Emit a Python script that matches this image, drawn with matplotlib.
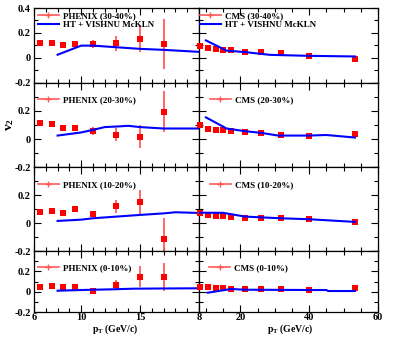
import numpy as np
import matplotlib as mpl
mpl.use('Agg')
import matplotlib.pyplot as plt
from matplotlib.lines import Line2D

plt.rcParams['font.family'] = ['Liberation Serif', 'DejaVu Serif']
plt.rcParams['font.weight'] = 'bold'
plt.rcParams['mathtext.fontset'] = 'custom'
plt.rcParams['mathtext.rm'] = 'Liberation Serif:bold'
plt.rcParams['mathtext.it'] = 'Liberation Serif:bold'

# ---- data ----
centralities = ['30-40%', '20-30%', '10-20%', '0-10%']

phenix_pt = [6.5, 7.5, 8.5, 9.5, 11, 13, 15, 17]
phenix_v2 = [
    [0.123, 0.123, 0.107, 0.115, 0.110, 0.117, 0.155, 0.110],
    [0.112, 0.107, 0.083, 0.078, 0.057, 0.033, 0.019, 0.195],
    [0.083, 0.088, 0.076, 0.102, 0.069, 0.121, 0.152, -0.114],
    [0.044, 0.057, 0.047, 0.044, 0.004, 0.067, 0.147, 0.147],
]
phenix_err = [
    [0.008, 0.008, 0.015, 0.022, 0.030, 0.060, 0.105, 0.200],
    [0.008, 0.008, 0.015, 0.020, 0.028, 0.045, 0.080, 0.146],
    [0.008, 0.008, 0.015, 0.020, 0.020, 0.046, 0.083, 0.150],
    [0.008, 0.008, 0.012, 0.020, 0.030, 0.050, 0.103, 0.140],
]

cms_pt = [8.3, 10.5, 13, 15, 17.3, 21.4, 26.1, 31.7, 40.1, 53.3]
cms_v2 = [
    [0.098, 0.077, 0.067, 0.064, 0.059, 0.050, 0.048, 0.037, 0.013, -0.008],
    [0.100, 0.071, 0.064, 0.064, 0.057, 0.048, 0.045, 0.033, 0.021, 0.040],
    [0.074, 0.060, 0.052, 0.050, 0.045, 0.040, 0.036, 0.040, 0.029, 0.010],
    [0.050, 0.047, 0.037, 0.034, 0.027, 0.030, 0.030, 0.027, 0.020, 0.037],
]
cms_err = [0.004, 0.004, 0.004, 0.005, 0.005, 0.005, 0.006, 0.006, 0.008, 0.012]

# HT + VISHNU McKLN curves
model_l_pt = [
    [8, 10, 11, 13, 15, 17, 20],
    [8, 10, 11, 12, 13, 14, 15, 17, 20],
    [8, 10, 11, 13, 15, 17, 18, 20],
    [8, 10, 12.7, 14.4, 17, 20],
]
model_l_v2 = [
    [0.025, 0.098, 0.098, 0.085, 0.072, 0.064, 0.048],
    [0.026, 0.048, 0.066, 0.086, 0.090, 0.095, 0.086, 0.076, 0.076],
    [0.017, 0.026, 0.036, 0.048, 0.060, 0.071, 0.079, 0.074],
    [0.010, 0.017, 0.024, 0.030, 0.032, 0.034],
]
model_r_pt = [
    [10, 16, 21.4, 28.6, 40, 53.3],
    [10, 16, 21.4, 26.1, 31, 40, 45, 53.3],
    [8, 15, 21.4, 31.7, 40, 53.3],
    [10.5, 17.3, 21.4, 40, 45, 45.5, 53.3],
]
model_r_v2 = [
    [0.140, 0.058, 0.046, 0.024, 0.016, 0.011],
    [0.155, 0.076, 0.057, 0.045, 0.026, 0.026, 0.030, 0.012],
    [0.076, 0.075, 0.048, 0.036, 0.029, 0.010],
    [-0.010, 0.027, 0.020, 0.017, 0.017, 0.007, 0.007],
]

model_label = 'HT + VISHNU McKLN'

# ---- figure ----
W, H = 399, 337
fig = plt.figure(figsize=(W / 100, H / 100), dpi=100)
gs = fig.add_gridspec(4, 2, left=34 / W, right=378 / W, top=1 - 8 / H,
                      bottom=1 - 312 / H, height_ratios=[75, 85, 84, 61],
                      width_ratios=[165, 179], hspace=0, wspace=0)

red = '#ff0000'
ebar = '#ff5a5a'
blue = '#0000ff'
fs_tick = 7.5
fs_leg = 6.5

leg_y = [0.95, 0.84, 0.845, 0.785]
leg_xr = [0.006, 0.061, 0.061, 0.058]


def style(ax):
    ax.tick_params(which='both', direction='in', top=True, right=True,
                   labelsize=fs_tick, width=0.8)
    ax.tick_params(which='major', length=5)
    ax.tick_params(which='minor', length=2.8)
    ax.tick_params(axis='x', pad=0.5)
    ax.tick_params(axis='y', pad=2.5)
    for s in ax.spines.values():
        s.set_linewidth(0.9)
    ax.set_ylim(-0.2, 0.4)
    ax.set_yticks([-0.2, 0, 0.2, 0.4])
    ax.set_yticks(np.arange(-0.2, 0.41, 0.1), minor=True)


for i in range(4):
    axl = fig.add_subplot(gs[i, 0])
    axr = fig.add_subplot(gs[i, 1])
    style(axl)
    style(axr)

    # left: PHENIX
    axl.errorbar(phenix_pt, phenix_v2[i], yerr=phenix_err[i], fmt='none',
                 ecolor=ebar, elinewidth=1.3, capsize=0, zorder=2)
    axl.plot(phenix_pt, phenix_v2[i], 's', color=red, ms=3.8, mew=0, zorder=3)
    axl.plot(model_l_pt[i], model_l_v2[i], color=blue, lw=1.5, zorder=4)
    axl.set_xlim(6, 20)
    axl.set_xticks([6, 10, 15, 20])
    axl.set_xticks(range(7, 20), minor=True)

    # right: CMS
    axr.errorbar(cms_pt, cms_v2[i], yerr=cms_err, fmt='none',
                 ecolor=ebar, elinewidth=1.3, capsize=0, zorder=2)
    axr.plot(cms_pt, cms_v2[i], 's', color=red, ms=3.8, mew=0, zorder=3,
             clip_on=False)
    axr.plot(model_r_pt[i], model_r_v2[i], color=blue, lw=1.5, zorder=4)
    axr.set_xlim(8, 60)
    axr.set_xticks([8, 20, 40, 60])
    axr.set_xticks([10, 15, 25, 30, 35, 45, 50, 55], minor=True)
    axr.set_yticklabels([])

    if i == 0:
        axl.set_yticklabels(['-0.2', '0', '0.2', '0.4'])
    else:
        axl.set_yticklabels(['-0.2', '0', '0.2', ''])

    if i == 3:
        axl.set_xticklabels(['6', '10', '15', ''])
        axr.set_xticklabels(['8', '20', '40', '60'])
    else:
        axl.set_xticklabels([])
        axr.set_xticklabels([])

    # legends
    ph = Line2D([], [], color=ebar, lw=1.2, marker='+', ms=4, mew=1)
    mh = Line2D([], [], color=blue, lw=1.5)
    hl = [ph, mh] if i == 0 else [ph]
    ll = ['PHENIX (%s)' % centralities[i]] + ([model_label] if i == 0 else [])
    axl.legend(hl, ll, loc='upper left', bbox_to_anchor=(0.024, leg_y[i]),
               frameon=False, fontsize=fs_leg, borderpad=0, borderaxespad=0,
               handlelength=2.3, handletextpad=0.45, labelspacing=0.12)
    hr = [ph, mh] if i == 0 else [ph]
    lr = ['CMS (%s)' % centralities[i]] + ([model_label] if i == 0 else [])
    axr.legend(hr, lr, loc='upper left', bbox_to_anchor=(leg_xr[i], leg_y[i]),
               frameon=False, fontsize=fs_leg, borderpad=0, borderaxespad=0,
               handlelength=2.3, handletextpad=0.45, labelspacing=0.12)

fig.text(10 / W, 1 - 125 / H, r'$\mathrm{v_2}$', rotation=90, fontsize=9.5,
         ha='center', va='center')
fig.text(115 / W, 1 - 329 / H, r'$\mathrm{p_T}$ (GeV/c)', fontsize=7,
         ha='center', va='center')
fig.text(290 / W, 1 - 329 / H, r'$\mathrm{p_T}$ (GeV/c)', fontsize=7,
         ha='center', va='center')

fig.savefig('out.png', dpi=100)
